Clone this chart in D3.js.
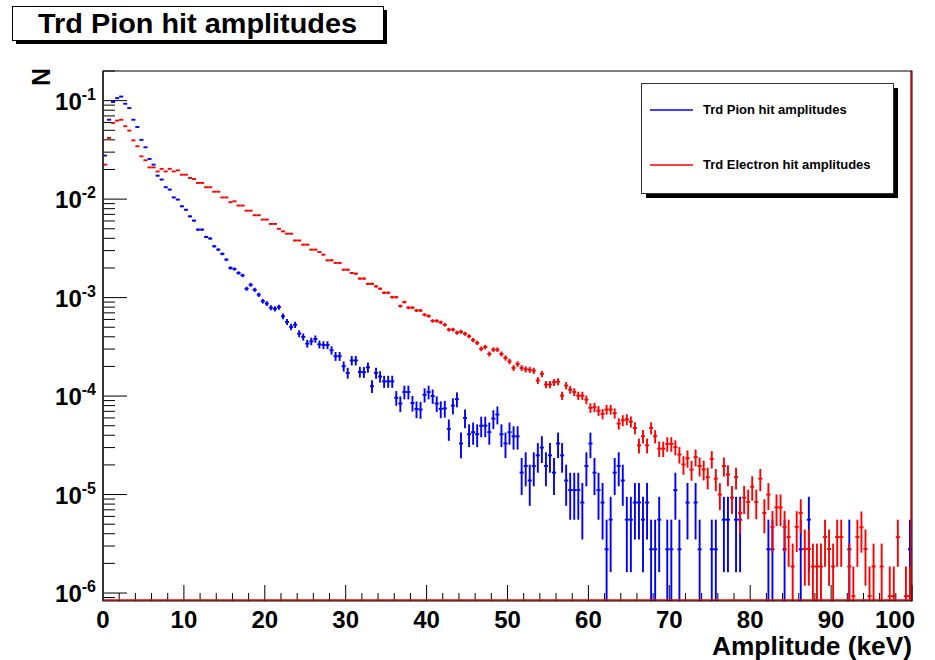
<!DOCTYPE html>
<html><head><meta charset="utf-8">
<script src="https://cdn.jsdelivr.net/npm/d3@7"></script>
<style>
body{margin:0;background:#fff}
svg{display:block}
text{font-family:"Liberation Sans",Arial,Helvetica,sans-serif;font-weight:bold;fill:#000}
</style>
</head><body>
<svg id="chart" width="935" height="660"></svg>
<script>
// ---- data (0.5 keV bins from 0 to 100 keV) ----
const binWidth = 0.5;
const pionValues = [
0.0277,0.064,0.097,0.106,0.11,0.093,0.084,0.064,0.054,0.040,
0.0336,0.0256,0.0224,0.0173,0.0158,0.0132,0.0125,0.0104,0.0099,0.00845,
0.0078,0.00668,0.00605,0.0049,0.0049,0.00413,0.00398,0.00332,0.00307,0.00278,
0.00243,0.0020,0.00195,0.00178,0.00168,0.00123,0.00135,0.0012,0.00107,0.00092,
0.00087,0.00079,0.00077,0.0008,0.000646,0.000566,0.000504,0.00053,0.000431,0.000399,
0.000341,0.00036,0.00038,0.000335,0.00033,0.00033,0.000292,0.000254,0.000254,0.000201,
0.000172,0.00023,0.00023,0.000176,0.000175,0.000196,0.000126,0.000172,0.000158,0.000141,
0.000141,0.000141,0.000096,0.000084,0.00011,0.00011,0.000085,0.000074,0.000073,0.000103,
0.00011,0.0001,0.000084,0.000074,0.000075,0.0000465,0.00008,0.000093,3.3e-5,6.0e-5,
4.1e-5,4.3e-5,4.1e-5,5.0e-5,5.0e-5,4.3e-5,5.9e-5,6.5e-5,4.1e-5,3.3e-5,
4.3e-5,3.9e-5,3.9e-5,1.67e-5,1.95e-5,1.39e-5,1.95e-5,2.5e-5,3.0e-5,1.95e-5,
2.5e-5,1.67e-5,3.3e-5,2.5e-5,1.39e-5,1.11e-5,1.11e-5,1.11e-5,8.3e-6,1.95e-5,
3.3e-5,1.67e-5,1.11e-5,8.3e-6,2.78e-6,5.56e-6,1.67e-5,1.95e-5,1.39e-5,5.56e-6,
5.56e-6,8.3e-6,8.3e-6,5.56e-6,8.3e-6,2.78e-6,2.78e-6,5.56e-6,0,2.78e-6,
2.78e-6,1.11e-5,2.78e-6,0,8.3e-6,0,8.3e-6,2.78e-6,0,0,
2.78e-6,2.78e-6,0,5.56e-6,5.56e-6,0,5.56e-6,5.56e-6,0,0,
0,0,0,0,2.78e-6,2.78e-6,0,0,2.78e-6,0,
0,0,2.78e-6,0,5.56e-6,0,0,0,0,0,
0,0,0,0,2.78e-6,0,0,0,0,0,
0,0,0,0,0,0,0,0,0,2.78e-6
];
const electronValues = [
0.0224,0.0418,0.0594,0.0627,0.064,0.055,0.0496,0.0395,0.0344,0.0272,
0.0248,0.021,0.021,0.0191,0.0203,0.0191,0.0203,0.0191,0.0196,0.0177,
0.0177,0.0164,0.016,0.0146,0.0146,0.0132,0.0132,0.0119,0.0119,0.0104,
0.0104,0.0093,0.0095,0.0086,0.0086,0.00764,0.00764,0.00686,0.00686,0.0062,
0.0062,0.0056,0.0056,0.0050,0.0047,0.00446,0.00446,0.0038,0.0038,0.00345,
0.00345,0.00307,0.00307,0.0029,0.00273,0.00239,0.00239,0.00225,0.00225,0.00192,
0.00192,0.00178,0.00175,0.00156,0.00156,0.00138,0.00138,0.0013,0.00123,0.00112,
0.00112,0.00101,0.00101,0.00082,0.0009,0.00079,0.00079,0.00074,0.00074,0.00067,
0.00065,0.00058,0.00058,0.00056,0.00053,0.000473,0.000473,0.00044,0.00045,0.00043,
0.000405,0.00037,0.000347,0.000302,0.000315,0.000268,0.000296,0.000296,0.000268,0.000244,
0.000225,0.000193,0.000212,0.000193,0.000187,0.000185,0.000181,0.000144,0.000168,0.000131,
0.000131,0.000138,0.00014,0.000101,0.000128,0.000116,0.00011,0.000101,0.000101,0.000092,
0.000076,0.000077,0.000071,0.000066,0.000073,0.000073,0.000067,0.0000526,0.0000567,0.000058,
0.000055,0.0000475,0.0000316,0.0000391,0.0000316,0.0000475,0.0000391,0.0000293,0.0000293,0.0000327,
0.0000327,0.0000303,0.0000255,0.0000202,0.0000234,0.0000179,0.000024,1.95e-5,1.8e-5,1.5e-5,
2.3e-5,1.45e-5,1.0e-5,1.95e-5,1.6e-5,9.3e-6,1.5e-5,6.5e-6,9.3e-6,8.4e-6,
1.2e-5,8.4e-6,1.45e-5,6.5e-6,1.0e-5,4.7e-6,7.4e-6,7.4e-6,4.7e-6,3.7e-6,
1.86e-6,4.7e-6,6.5e-6,2.8e-6,2.8e-6,1.86e-6,1.86e-6,1.86e-6,3.7e-6,2.8e-6,
1.86e-6,3.7e-6,3.7e-6,0,1.86e-6,0.93e-6,3.7e-6,4.65e-6,2.8e-6,0.93e-6,
1.86e-6,0,1.86e-6,0,0.93e-6,0.93e-6,3.7e-6,0,0.93e-6,0.93e-6
];
// normalisation of one entry (Poisson errors)
const pionUnit = 2.78e-6;
const electronUnit = 0.93e-6;
const xTickValues = [0,10,20,30,40,50,60,70,80,90,100];
const yTickExponents = [-1,-2,-3,-4,-5,-6];
const seriesNames = ["Trd Pion hit amplitudes","Trd Electron hit amplitudes"];
const seriesColors = ["#0000ff","#ff0000"];
const titleText = "Trd Pion hit amplitudes";

// ---- layout ----
const L=103, R=912, T=71, B=601;
const svg = d3.select("#chart");
const x = d3.scaleLinear().domain([0,100]).range([L,R]);
const y = d3.scaleLog().domain([8.3e-7,0.2]).range([B,T]);

svg.append("rect").attr("width",935).attr("height",660).attr("fill","#fff");

svg.append("clipPath").attr("id","clip").append("rect")
  .attr("x",L).attr("y",T).attr("width",R-L).attr("height",B-T);

// ---- ticks ----
const tickG = svg.append("g").attr("stroke","#000").attr("stroke-width",1);
const xMinor = d3.range(0,101,2).filter(v=>v%10!==0);
tickG.selectAll("line.xmaj").data(xTickValues).join("line")
  .attr("x1",d=>x(d)).attr("x2",d=>x(d)).attr("y1",B).attr("y2",B-16);
tickG.selectAll("line.xmin").data(xMinor).join("line")
  .attr("x1",d=>x(d)).attr("x2",d=>x(d)).attr("y1",B).attr("y2",B-8);
const yMajor = yTickExponents.map(e=>Math.pow(10,e));
const yMinor = [];
for (let e=-7;e<=-1;e++) for (let k=2;k<=9;k++){const v=k*Math.pow(10,e); if(v>=y.domain()[0]&&v<=y.domain()[1]*1.0001) yMinor.push(v);}
tickG.selectAll("line.ymaj").data(yMajor).join("line")
  .attr("x1",L).attr("x2",L+24).attr("y1",d=>y(d)).attr("y2",d=>y(d));
tickG.selectAll("line.ymin").data(yMinor).join("line")
  .attr("x1",L).attr("x2",L+12).attr("y1",d=>y(d)).attr("y2",d=>y(d));

// ---- data marks ----
function drawSeries(values, unit, color){
  const pts = values.map((v,i)=>({i, v, e: Math.sqrt(v*unit)})).filter(d=>d.v>0);
  const g = svg.append("g").attr("clip-path","url(#clip)").attr("stroke",color).attr("stroke-width",1.9);
  const ymin = y.domain()[0];
  g.selectAll("line.h").data(pts).join("line")
    .attr("x1",d=>x(d.i*binWidth)).attr("x2",d=>x((d.i+1)*binWidth))
    .attr("y1",d=>y(d.v)).attr("y2",d=>y(d.v));
  g.selectAll("line.v").data(pts).join("line")
    .attr("x1",d=>x((d.i+0.5)*binWidth)).attr("x2",d=>x((d.i+0.5)*binWidth))
    .attr("y1",d=>d.v-d.e>ymin? y(d.v-d.e) : B+2).attr("y2",d=>y(d.v+d.e));
}
drawSeries(pionValues, pionUnit, seriesColors[0]);
drawSeries(electronValues, electronUnit, seriesColors[1]);

// red histogram outline along bottom and last edge
svg.append("line").attr("x1",L).attr("x2",R).attr("y1",B-1).attr("y2",B-1)
  .attr("stroke",seriesColors[1]).attr("stroke-width",1.5);
svg.append("line").attr("x1",R-1).attr("x2",R-1).attr("y1",T).attr("y2",B)
  .attr("stroke",seriesColors[1]).attr("stroke-width",1.5);

// ---- frame ----
svg.append("rect").attr("x",L).attr("y",T).attr("width",R-L).attr("height",B-T)
  .attr("fill","none").attr("stroke","#000").attr("stroke-width",1);
svg.append("line").attr("x1",L).attr("x2",L).attr("y1",T).attr("y2",B)
  .attr("stroke","#333").attr("stroke-width",2);

// ---- tick labels ----
svg.append("g").selectAll("text").data(xTickValues).join("text")
  .attr("x",d=> d===100 ? x(d)+3 : x(d)).attr("y",628)
  .attr("text-anchor",d=> d===100 ? "end":"middle")
  .attr("font-size",24).text(d=>d);

const yl = svg.append("g").selectAll("text").data(yTickExponents).join("text")
  .attr("x",96).attr("y",d=>y(Math.pow(10,d))+9)
  .attr("text-anchor","end").attr("font-size",24);
yl.append("tspan").text("10");
yl.append("tspan").attr("font-size",16).attr("dy",-10).text(d=>String(d));

// ---- axis titles ----
svg.append("text").attr("x",R).attr("y",655).attr("text-anchor","end")
  .attr("font-size",26).attr("textLength",200).attr("lengthAdjust","spacingAndGlyphs")
  .text("Amplitude (keV)");
svg.append("text").attr("transform","translate(50,68) rotate(-90)")
  .attr("text-anchor","end").attr("font-size",25).text("N");

// ---- title box ----
svg.append("rect").attr("x",16).attr("y",10).attr("width",371).attr("height",34).attr("fill","#000");
svg.append("rect").attr("x",12.5).attr("y",6.5).attr("width",371).attr("height",34)
  .attr("fill","#fff").attr("stroke","#000").attr("stroke-width",1);
svg.append("text").attr("x",38).attr("y",33)
  .attr("font-size",27).attr("textLength",319).attr("lengthAdjust","spacingAndGlyphs")
  .text(titleText);

// ---- legend ----
const lg = svg.append("g");
lg.append("rect").attr("x",646).attr("y",88).attr("width",252).attr("height",110).attr("fill","#000");
lg.append("rect").attr("x",641.5).attr("y",83.5).attr("width",252).attr("height",110)
  .attr("fill","#fff").attr("stroke","#333").attr("stroke-width",1);
const ent = lg.selectAll("g.e").data(seriesNames).join("g")
  .attr("transform",(d,i)=>`translate(0,${110+i*55})`);
ent.append("line").attr("x1",650).attr("x2",693).attr("y1",0).attr("y2",0)
  .attr("stroke",(d,i)=>seriesColors[i]).attr("stroke-width",1.5);
ent.append("text").attr("x",703).attr("y",4).attr("font-size",13).text(d=>d);
</script>
</body></html>
